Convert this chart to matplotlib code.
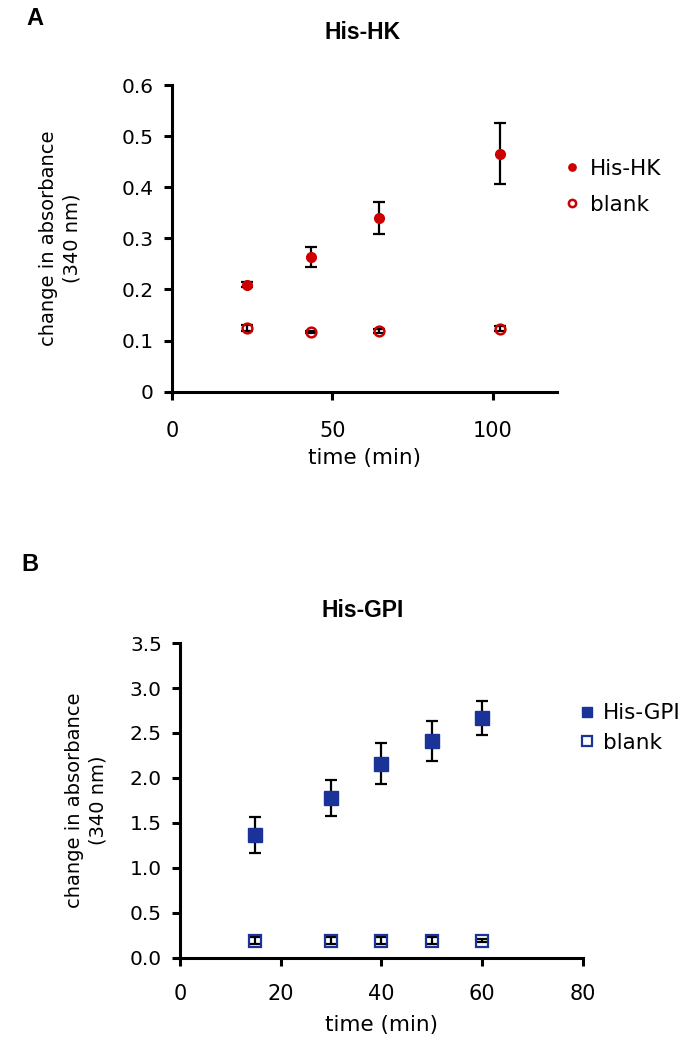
import matplotlib.pyplot as plt

# Panel A: His-HK
hk_time = [23.4, 43.4, 64.4, 102.2]
hk_vals = [0.209, 0.264, 0.340, 0.466]
hk_err = [0.005, 0.020, 0.032, 0.059]
hk_blank_vals = [0.125, 0.116, 0.119, 0.123]
hk_blank_err = [0.006, 0.002, 0.004, 0.005]

# Panel B: His-GPI
gpi_time = [15, 30, 40, 50, 60]
gpi_vals = [1.36, 1.78, 2.16, 2.41, 2.67]
gpi_err = [0.20, 0.20, 0.23, 0.22, 0.19]
gpi_blank_vals = [0.19, 0.19, 0.19, 0.19, 0.19]
gpi_blank_err = [0.04, 0.04, 0.04, 0.04, 0.02]

RED = "#cc0000"
BLUE = "#1a3399"
plt.rcParams["font.family"] = "DejaVu Sans"


def style_axes(ax, ylabelpad, xpad, xlabelpad):
    for side in ["top", "right"]:
        ax.spines[side].set_visible(False)
    for side in ["left", "bottom"]:
        ax.spines[side].set_linewidth(2.2)
    ax.tick_params(direction="out", width=2.2, length=6, labelsize=14.5)
    ax.tick_params(axis="x", pad=xpad, labelsize=15)
    ax.tick_params(axis="y", pad=7)
    ax.set_ylabel("change in absorbance\n(340 nm)", fontsize=14, labelpad=ylabelpad,
                  linespacing=1.3)
    ax.set_xlabel("time (min)", fontsize=15.5, labelpad=xlabelpad)


def errs(ax, x, y, e):
    ax.errorbar(x, y, yerr=e, fmt="none", ecolor="black",
                elinewidth=1.6, capsize=4.5, capthick=1.6, zorder=2)


fig = plt.figure(figsize=(6.99, 10.5), dpi=100)

# --- A ---
ax1 = fig.add_axes([0.246, 0.627, 0.551, 0.292])
errs(ax1, hk_time, hk_vals, hk_err)
errs(ax1, hk_time, hk_blank_vals, hk_blank_err)
ax1.plot(hk_time, hk_vals, "o", color=RED, ms=7, ls="none", label="His-HK", zorder=3)
ax1.plot(hk_time, hk_blank_vals, "o", mfc="none", mec=RED, mew=1.8, ms=7, ls="none",
         label="blank", zorder=3)
ax1.set_xlim(0, 120)
ax1.set_ylim(0, 0.6)
ax1.set_xticks([0, 50, 100])
ax1.set_yticks([0, 0.1, 0.2, 0.3, 0.4, 0.5, 0.6])
ax1.set_yticklabels(["0", "0.1", "0.2", "0.3", "0.4", "0.5", "0.6"])
style_axes(ax1, ylabelpad=29, xpad=15, xlabelpad=5)
ax1.legend(loc="upper left", bbox_to_anchor=(1.016, 0.76), frameon=False,
           fontsize=15.5, handletextpad=0.45, labelspacing=0.75, handlelength=0.8,
           borderpad=0, borderaxespad=0, markerscale=0.75)
fig.text(0.519, 0.969, "His-HK", fontsize=16.5, fontweight="bold",
         family="Liberation Sans", va="center", ha="center")
fig.text(0.05, 0.982, "A", fontsize=17, fontweight="bold",
         family="Liberation Sans", va="center", ha="center")

# --- B ---
ax2 = fig.add_axes([0.2575, 0.088, 0.576, 0.2995])
errs(ax2, gpi_time, gpi_vals, gpi_err)
errs(ax2, gpi_time, gpi_blank_vals, gpi_blank_err)
ax2.plot(gpi_time, gpi_vals, "s", color=BLUE, ms=9.5, ls="none", label="His-GPI", zorder=3)
ax2.plot(gpi_time, gpi_blank_vals, "s", mfc="none", mec=BLUE, mew=1.6, ms=8.5, ls="none",
         label="blank", zorder=3)
ax2.set_xlim(0, 80)
ax2.set_ylim(0, 3.5)
ax2.set_xticks([0, 20, 40, 60, 80])
ax2.set_yticks([0, 0.5, 1.0, 1.5, 2.0, 2.5, 3.0, 3.5])
ax2.set_yticklabels(["0.0", "0.5", "1.0", "1.5", "2.0", "2.5", "3.0", "3.5"])
style_axes(ax2, ylabelpad=16, xpad=13, xlabelpad=8)
ax2.legend(loc="upper left", bbox_to_anchor=(0.99, 0.809), frameon=False,
           fontsize=15.5, handletextpad=0.35, labelspacing=0.45, handlelength=0.8,
           borderpad=0, borderaxespad=0, markerscale=0.8)
fig.text(0.519, 0.419, "His-GPI", fontsize=16.5, fontweight="bold",
         family="Liberation Sans", va="center", ha="center")
fig.text(0.043, 0.462, "B", fontsize=17, fontweight="bold",
         family="Liberation Sans", va="center", ha="center")

fig.savefig("out.png", dpi=100)
